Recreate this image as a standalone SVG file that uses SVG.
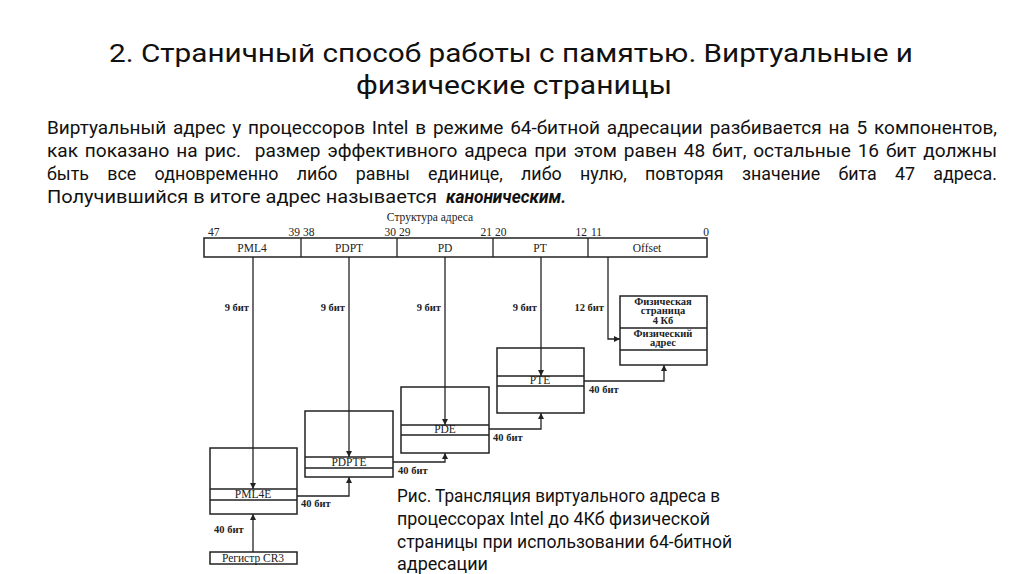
<svg xmlns="http://www.w3.org/2000/svg" width="1024" height="574" viewBox="0 0 1024 574">
<style>
.title{font-family:Roboto,"Open Sans",sans-serif;font-size:26.5px;fill:#111}
.body{font-family:Roboto,"Open Sans",sans-serif;font-size:18px;fill:#111}
.cap{font-family:Roboto,"Open Sans",sans-serif;font-size:18px;fill:#111}
.s{font-family:"Liberation Serif","DejaVu Serif",serif;font-size:11.5px;fill:#222}
.sb{font-family:"Liberation Serif","DejaVu Serif",serif;font-size:10.5px;font-weight:bold;fill:#222}
.box{fill:#fff;stroke:#222;stroke-width:1.5}
.ln{fill:none;stroke:#222;stroke-width:1.3}
.mid{text-anchor:middle}
.end{text-anchor:end}
</style>
<defs>
<marker id="ar" viewBox="0 0 8 8" refX="8" refY="4" markerWidth="6" markerHeight="6" markerUnits="userSpaceOnUse" orient="auto">
<path d="M0,0 L8,4 L0,8 z" fill="#222"/>
</marker>
</defs>
<rect width="1024" height="574" fill="#fff"/>

<g id="title">
<text class="title" x="109" y="62" textLength="804" lengthAdjust="spacingAndGlyphs">2. Страничный способ работы с памятью. Виртуальные и</text>
<text class="title mid" x="514" y="93.5" textLength="316" lengthAdjust="spacingAndGlyphs">физические страницы</text>
</g>

<g id="body">
<text class="body" x="47" y="134" word-spacing="2" textLength="950" lengthAdjust="spacingAndGlyphs">Виртуальный адрес у процессоров Intel в режиме 64-битной адресации разбивается на 5 компонентов,</text>
<text class="body" x="47" y="157" word-spacing="2" textLength="950" lengthAdjust="spacingAndGlyphs" xml:space="preserve">как показано на рис.  размер эффективного адреса при этом равен 48 бит, остальные 16 бит должны</text>
<text class="body" x="47" y="180" word-spacing="14" textLength="950" lengthAdjust="spacingAndGlyphs">быть все одновременно либо равны единице, либо нулю, повторяя значение бита 47 адреса.</text>
<text class="body" x="47" y="203" textLength="390" lengthAdjust="spacingAndGlyphs">Получившийся в итоге адрес называется</text>
<text class="body" x="446" y="203" font-weight="bold" font-style="italic" textLength="120" lengthAdjust="spacingAndGlyphs">каноническим.</text>
</g>

<g id="address">
<text class="s mid" x="430" y="221">Структура адреса</text>
<rect class="box" x="204" y="238" width="503" height="19"/>
<path class="ln" d="M301,238V257M397,238V257M493,238V257M588,238V257"/>
<text class="s" x="208" y="236">47</text>
<text class="s end" x="300" y="236">39</text>
<text class="s" x="303" y="236">38</text>
<text class="s end" x="396" y="236">30</text>
<text class="s" x="399" y="236">29</text>
<text class="s end" x="492" y="236">21</text>
<text class="s" x="495" y="236">20</text>
<text class="s end" x="587" y="236">12</text>
<text class="s" x="591" y="236">11</text>
<text class="s end" x="709" y="236">0</text>
<text class="s mid" x="252" y="252">PML4</text>
<text class="s mid" x="349" y="252">PDPT</text>
<text class="s mid" x="445" y="252">PD</text>
<text class="s mid" x="540" y="252">PT</text>
<text class="s mid" x="647" y="252">Offset</text>
</g>

<g id="pml4">
<rect class="box" x="210" y="448" width="87" height="66"/>
<path class="ln" d="M210,489H297M210,500H297"/>
<text class="s mid" x="253" y="498">PML4E</text>
</g>
<g id="pdpt">
<rect class="box" x="305" y="411" width="88" height="66"/>
<path class="ln" d="M305,457H393M305,468H393"/>
<text class="s mid" x="349" y="466">PDPTE</text>
</g>
<g id="pd">
<rect class="box" x="401" y="387" width="88" height="66"/>
<path class="ln" d="M401,425H489M401,435H489"/>
<text class="s mid" x="445" y="433">PDE</text>
</g>
<g id="pt">
<rect class="box" x="497" y="348" width="87" height="65"/>
<path class="ln" d="M497,376H584M497,386H584"/>
<text class="s mid" x="540" y="384">PTE</text>
</g>
<g id="page">
<rect class="box" x="620" y="296" width="87" height="69"/>
<path class="ln" d="M620,328H707M620,350H707"/>
<text class="sb mid" x="663" y="305">Физическая</text>
<text class="sb mid" x="663" y="314">страница</text>
<text class="sb mid" x="663" y="324">4 Кб</text>
<text class="sb mid" x="663" y="337">Физический</text>
<text class="sb mid" x="663" y="346">адрес</text>
</g>
<g id="cr3">
<rect class="box" x="210" y="552" width="87" height="12"/>
<text class="s mid" x="253" y="562">Регистр CR3</text>
</g>

<g id="connectors">
<path class="ln" d="M253,257V489" marker-end="url(#ar)"/>
<path class="ln" d="M349,257V457" marker-end="url(#ar)"/>
<path class="ln" d="M445,257V425" marker-end="url(#ar)"/>
<path class="ln" d="M541,257V376" marker-end="url(#ar)"/>
<path class="ln" d="M608,257V339H620" marker-end="url(#ar)"/>
<path class="ln" d="M253,552V514" marker-end="url(#ar)"/>
<path class="ln" d="M297,496H349V477" marker-end="url(#ar)"/>
<path class="ln" d="M393,462H445V453" marker-end="url(#ar)"/>
<path class="ln" d="M489,429H541V413" marker-end="url(#ar)"/>
<path class="ln" d="M584,381H664V365" marker-end="url(#ar)"/>
<text class="sb end" x="249" y="311">9 бит</text>
<text class="sb end" x="345" y="311">9 бит</text>
<text class="sb end" x="441" y="311">9 бит</text>
<text class="sb end" x="537" y="311">9 бит</text>
<text class="sb end" x="604" y="311">12 бит</text>
<text class="sb" x="214" y="533">40 бит</text>
<text class="sb" x="301" y="507">40 бит</text>
<text class="sb" x="398" y="474">40 бит</text>
<text class="sb" x="493" y="441">40 бит</text>
<text class="sb" x="589" y="393">40 бит</text>
</g>

<g id="caption">
<text class="cap" x="397" y="502" textLength="323" lengthAdjust="spacingAndGlyphs">Рис. Трансляция виртуального адреса в</text>
<text class="cap" x="397" y="525" textLength="313" lengthAdjust="spacingAndGlyphs">процессорах Intel до 4Кб физической</text>
<text class="cap" x="397" y="548" textLength="335" lengthAdjust="spacingAndGlyphs">страницы при использовании 64-битной</text>
<text class="cap" x="397" y="570">адресации</text>
</g>
</svg>
